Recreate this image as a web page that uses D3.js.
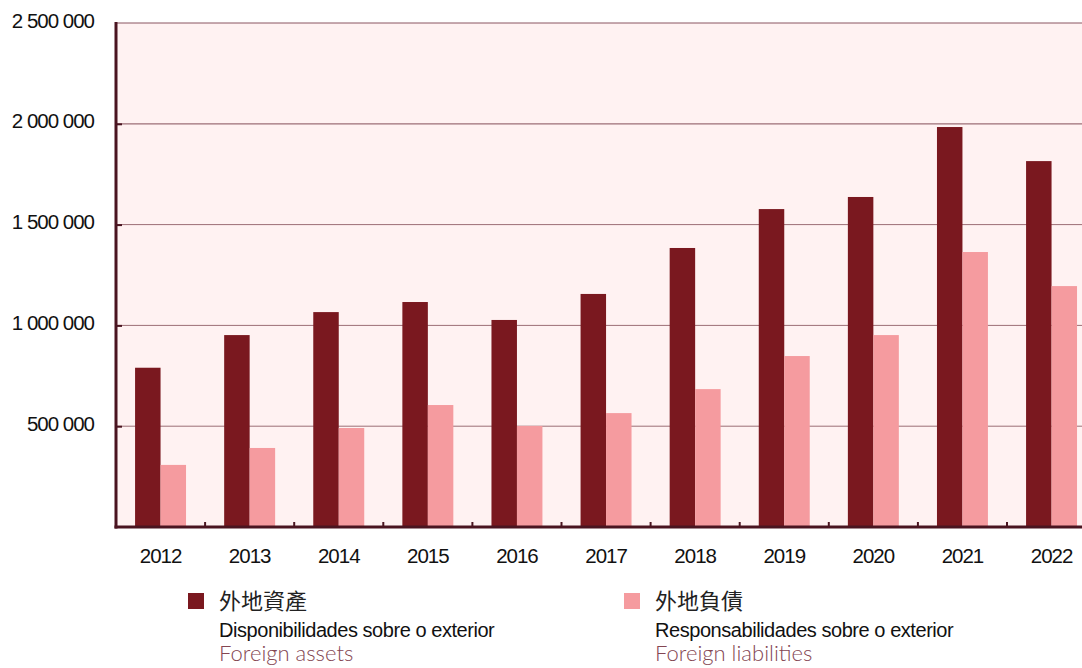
<!DOCTYPE html>
<html>
  <head>
    <meta charset="utf-8">
    <title>Foreign assets and liabilities</title>
    <script src="https://cdn.jsdelivr.net/npm/d3@7"></script>
    <style>
      body { margin: 0; background: #fff; }
      svg { display: block; }
      .tick text { font-family: "Liberation Sans", Arial, sans-serif; font-size: 20.5px; letter-spacing: -1px; fill: #111; }
    </style>
  </head>
  <body>
    <svg id="chart" width="1082" height="668"></svg>
    <script>
      // chart data
      var years = ["2012", "2013", "2014", "2015", "2016", "2017", "2018", "2019", "2020", "2021", "2022"];
      var assets = [790000, 952000, 1066000, 1116000, 1027000, 1156000, 1384000, 1577000, 1637000, 1984000, 1815000];
      var liabilities = [308000, 392000, 491000, 605000, 501000, 565000, 684000, 848000, 952000, 1364000, 1195000];
      var yTicks = [500000, 1000000, 1500000, 2000000, 2500000];
      var seriesNames = ["assets", "liabilities"];
      var colours = ["#7a181f", "#f59b9f"];

      var svg = d3.select("#chart");
      var margin = { top: 23, left: 116, bottom: 527 };
      var step = 89.1;

      var x0 = d3.scaleBand()
        .domain(years)
        .range([margin.left, margin.left + step * years.length])
        .paddingInner(0.428)
        .paddingOuter(0.214);
      var x1 = d3.scaleBand()
        .domain(seriesNames)
        .range([0, x0.bandwidth()]);
      var y = d3.scaleLinear()
        .domain([0, 2500000])
        .range([margin.bottom, margin.top]);

      var fmt = function(d) { return d3.format(",")(d).replace(/,/g, " "); };

      // plot background
      svg.append("rect")
        .attr("x", margin.left)
        .attr("y", y(2500000))
        .attr("width", 1082 - margin.left)
        .attr("height", y(0) - y(2500000))
        .attr("fill", "#fff2f2");

      // gridlines
      svg.append("g")
        .selectAll("line")
        .data(yTicks)
        .enter().append("line")
          .attr("x1", margin.left)
          .attr("x2", 1082)
          .attr("y1", function(d) { return y(d); })
          .attr("y2", function(d) { return y(d); })
          .attr("stroke", function(d) { return d == 2500000 ? "#8a5560" : "#9c6e76"; })
          .attr("stroke-width", function(d) { return d == 2000000 ? 1.3 : 1; });

      // bars
      var table = years.map(function(yr, i) {
        return { year: yr, values: [{ key: "assets", v: assets[i] }, { key: "liabilities", v: liabilities[i] }] };
      });
      var groups = svg.append("g")
        .selectAll("g")
        .data(table)
        .enter().append("g")
          .attr("transform", function(d) { return "translate(" + x0(d.year) + ",0)"; });
      groups.selectAll("rect")
        .data(function(d) { return d.values; })
        .enter().append("rect")
          .attr("x", function(d) { return x1(d.key); })
          .attr("width", x1.bandwidth())
          .attr("y", function(d) { return y(d.v); })
          .attr("height", function(d) { return y(0) - y(d.v); })
          .attr("fill", function(d, i) { return colours[i]; });

      // y axis
      var yAxis = svg.append("g")
        .attr("transform", "translate(" + margin.left + ",0)")
        .call(d3.axisLeft(y)
          .tickValues(yTicks)
          .tickSize(0)
          .tickPadding(22)
          .tickFormat(fmt));
      yAxis.select(".domain").remove();
      yAxis.selectAll(".tick text").attr("dy", "0.2em");
      yAxis.selectAll(".tick")
        .filter(function(d) { return d < 2500000; })
        .append("line")
          .attr("x1", 0)
          .attr("x2", 6)
          .attr("stroke", "#4a1420")
          .attr("stroke-width", 2);

      // x axis
      var xAxis = svg.append("g")
        .attr("transform", "translate(0," + margin.bottom + ")")
        .call(d3.axisBottom(x0)
          .tickSize(0)
          .tickPadding(19));
      xAxis.select(".domain").remove();
      xAxis.selectAll(".tick text").attr("dy", "0.85em");
      svg.append("g")
        .selectAll("line")
        .data(years.slice(1))
        .enter().append("line")
          .attr("x1", function(d) { return x0(d) - x0.step() * 0.214; })
          .attr("x2", function(d) { return x0(d) - x0.step() * 0.214; })
          .attr("y1", margin.bottom)
          .attr("y2", margin.bottom - 5)
          .attr("stroke", "#4a1420")
          .attr("stroke-width", 2);

      // axis lines
      svg.append("line")
        .attr("x1", margin.left)
        .attr("x2", margin.left)
        .attr("y1", y(2500000) - 1)
        .attr("y2", margin.bottom + 1.5)
        .attr("stroke", "#4a1420")
        .attr("stroke-width", 3);
      svg.append("line")
        .attr("x1", margin.left - 1.5)
        .attr("x2", 1082)
        .attr("y1", margin.bottom)
        .attr("y2", margin.bottom)
        .attr("stroke", "#4a1420")
        .attr("stroke-width", 3);

      // legend
      var legendItems = [
        { x: 188, zh: "外地資產", pt: "Disponibilidades sobre o exterior", en: "Foreign assets", colour: colours[0] },
        { x: 624, zh: "外地負債", pt: "Responsabilidades sobre o exterior", en: "Foreign liabilities", colour: colours[1] }
      ];
      var legend = svg.append("g")
        .selectAll("g")
        .data(legendItems)
        .enter().append("g")
          .attr("transform", function(d) { return "translate(" + d.x + ",0)"; });
      legend.append("rect")
        .attr("x", 0)
        .attr("y", 593)
        .attr("width", 16)
        .attr("height", 16)
        .attr("fill", function(d) { return d.colour; });
      legend.append("text")
        .attr("x", 31)
        .attr("y", 609)
        .attr("font-family", "'Noto Sans CJK TC', sans-serif")
        .attr("font-size", 22)
        .attr("fill", "#222")
        .text(function(d) { return d.zh; });
      legend.append("text")
        .attr("x", 31)
        .attr("y", 637)
        .attr("font-family", "'Liberation Sans', Arial, sans-serif")
        .attr("font-size", 20)
        .attr("letter-spacing", -0.45)
        .attr("fill", "#111")
        .text(function(d) { return d.pt; });
      legend.append("text")
        .attr("x", 31)
        .attr("y", 661)
        .attr("font-family", "Lato, sans-serif")
        .attr("font-weight", 300)
        .attr("font-size", 22)
        .attr("fill", "#844652")
        .text(function(d) { return d.en; });
    </script>
  </body>
</html>
